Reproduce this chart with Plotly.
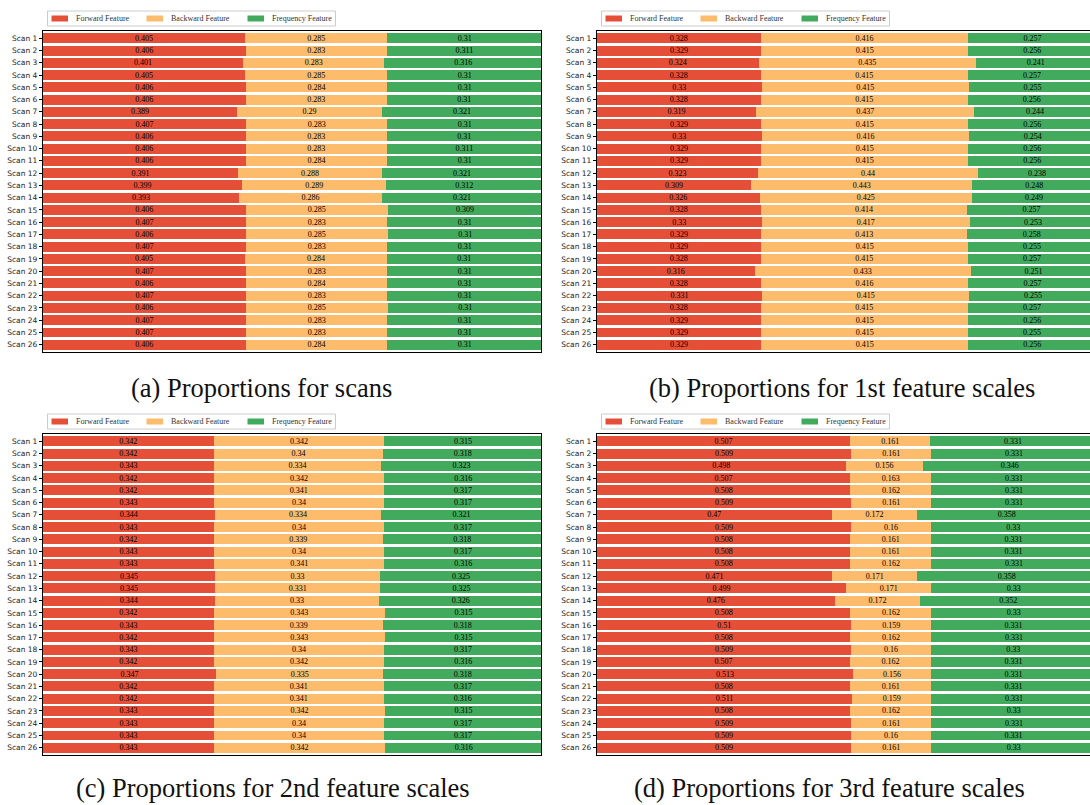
import plotly.graph_objects as go

# ---------------- data ----------------
scans = [f"Scan {i}" for i in range(1, 27)]
series_names = ["Forward Feature", "Backward Feature", "Frequency Feature"]
colors = ["#e64f37", "#fdbb6c", "#41aa5c"]

a_forward = [0.405, 0.406, 0.401, 0.405, 0.406, 0.406, 0.389, 0.407, 0.406, 0.406, 0.406, 0.391, 0.399,
             0.393, 0.406, 0.407, 0.406, 0.407, 0.405, 0.407, 0.406, 0.407, 0.406, 0.407, 0.407, 0.406]
a_backward = [0.285, 0.283, 0.283, 0.285, 0.284, 0.283, 0.29, 0.283, 0.283, 0.283, 0.284, 0.288, 0.289,
              0.286, 0.285, 0.283, 0.285, 0.283, 0.284, 0.283, 0.284, 0.283, 0.285, 0.283, 0.283, 0.284]
a_frequency = [0.31, 0.311, 0.316, 0.31, 0.31, 0.31, 0.321, 0.31, 0.31, 0.311, 0.31, 0.321, 0.312,
               0.321, 0.309, 0.31, 0.31, 0.31, 0.31, 0.31, 0.31, 0.31, 0.31, 0.31, 0.31, 0.31]

b_forward = [0.328, 0.329, 0.324, 0.328, 0.33, 0.328, 0.319, 0.329, 0.33, 0.329, 0.329, 0.323, 0.309,
             0.326, 0.328, 0.33, 0.329, 0.329, 0.328, 0.316, 0.328, 0.331, 0.328, 0.329, 0.329, 0.329]
b_backward = [0.416, 0.415, 0.435, 0.415, 0.415, 0.415, 0.437, 0.415, 0.416, 0.415, 0.415, 0.44, 0.443,
              0.425, 0.414, 0.417, 0.413, 0.415, 0.415, 0.433, 0.416, 0.415, 0.415, 0.415, 0.415, 0.415]
b_frequency = [0.257, 0.256, 0.241, 0.257, 0.255, 0.256, 0.244, 0.256, 0.254, 0.256, 0.256, 0.238, 0.248,
               0.249, 0.257, 0.253, 0.258, 0.255, 0.257, 0.251, 0.257, 0.255, 0.257, 0.256, 0.255, 0.256]

c_forward = [0.342, 0.342, 0.343, 0.342, 0.342, 0.343, 0.344, 0.343, 0.342, 0.343, 0.343, 0.345, 0.345,
             0.344, 0.342, 0.343, 0.342, 0.343, 0.342, 0.347, 0.342, 0.342, 0.343, 0.343, 0.343, 0.343]
c_backward = [0.342, 0.34, 0.334, 0.342, 0.341, 0.34, 0.334, 0.34, 0.339, 0.34, 0.341, 0.33, 0.331,
              0.33, 0.343, 0.339, 0.343, 0.34, 0.342, 0.335, 0.341, 0.341, 0.342, 0.34, 0.34, 0.342]
c_frequency = [0.315, 0.318, 0.323, 0.316, 0.317, 0.317, 0.321, 0.317, 0.318, 0.317, 0.316, 0.325, 0.325,
               0.326, 0.315, 0.318, 0.315, 0.317, 0.316, 0.318, 0.317, 0.316, 0.315, 0.317, 0.317, 0.316]

d_forward = [0.507, 0.509, 0.498, 0.507, 0.508, 0.509, 0.47, 0.509, 0.508, 0.508, 0.508, 0.471, 0.499,
             0.476, 0.508, 0.51, 0.508, 0.509, 0.507, 0.513, 0.508, 0.511, 0.508, 0.509, 0.509, 0.509]
d_backward = [0.161, 0.161, 0.156, 0.163, 0.162, 0.161, 0.172, 0.16, 0.161, 0.161, 0.162, 0.171, 0.171,
              0.172, 0.162, 0.159, 0.162, 0.16, 0.162, 0.156, 0.161, 0.159, 0.162, 0.161, 0.16, 0.161]
d_frequency = [0.331, 0.331, 0.346, 0.331, 0.331, 0.331, 0.358, 0.33, 0.331, 0.331, 0.331, 0.358, 0.33,
               0.352, 0.33, 0.331, 0.331, 0.33, 0.331, 0.331, 0.331, 0.331, 0.33, 0.331, 0.331, 0.33]

captions = ["(a) Proportions for scans",
            "(b) Proportions for 1st feature scales",
            "(c) Proportions for 2nd feature scales",
            "(d) Proportions for 3rd feature scales"]

panel_series = [
    [a_forward, a_backward, a_frequency],
    [b_forward, b_backward, b_frequency],
    [c_forward, c_backward, c_frequency],
    [d_forward, d_backward, d_frequency],
]

# ---------------- layout geometry (pixels) ----------------
W, H = 1090, 805
PX_PER_UNIT = 499.0
# (left, right, top, bottom) of each axes box
boxes = [
    (43, 541, 31, 352),
    (597, 1090, 31, 352),
    (43, 541, 434, 755),
    (597, 1090, 434, 755),
]
# legend box top-left corner
legend_pos = [(47.5, 11), (601.5, 11), (47.5, 414), (601.5, 414)]
LEG_W, LEG_H = 288, 15
HANDLE_X = [4, 99, 200]      # handle left offsets inside legend box
HANDLE_W, HANDLE_H = 16.5, 6
TEXT_GAP = 6
caption_pos = [(261, 388), (842, 388), (273, 788), (829, 788)]

SERIF = "Liberation Serif"


def fx(px):
    return px / W


def fy(py):
    return 1 - py / H


fig = go.Figure()
layout = dict(
    width=W, height=H,
    margin=dict(l=0, r=0, t=0, b=0),
    paper_bgcolor="white", plot_bgcolor="white",
    barmode="stack", bargap=0.2,
    showlegend=False,
    annotations=[], shapes=[],
)

for i, series in enumerate(panel_series):
    k = "" if i == 0 else str(i + 1)
    xref, yref = "x" + k, "y" + k
    for name, vals, col in zip(series_names, series, colors):
        fig.add_trace(go.Bar(
            y=scans, x=vals, orientation="h", name=name,
            marker=dict(color=col, line=dict(width=0)),
            width=0.8,
            text=[str(v) for v in vals],
            textposition="inside", insidetextanchor="middle", textangle=0,
            constraintext="none",
            textfont=dict(family=SERIF, size=8, color="black"),
            showlegend=False, xaxis=xref, yaxis=yref,
        ))

    l, r, t, b = boxes[i]
    right_cut = r >= W
    layout["xaxis" + k] = dict(
        domain=[fx(l), fx(r)], anchor=yref,
        range=[0, (r - l) / PX_PER_UNIT],
        showticklabels=False, ticks="", showgrid=False, zeroline=False,
        showline=True, mirror=True, linecolor="black", linewidth=1.3,
        fixedrange=True,
    )
    layout["yaxis" + k] = dict(
        domain=[fy(b), fy(t)], anchor=xref,
        type="category", categoryorder="array", categoryarray=scans,
        range=[25.6, -0.6],
        showgrid=False, zeroline=False,
        showline=True, mirror=not right_cut, linecolor="black", linewidth=1.3,
        ticks="outside", ticklen=3, tickwidth=1, tickcolor="black",
        tickfont=dict(family="DejaVu Sans", size=7.5, color="#222"),
        fixedrange=True,
    )

    # legend (box, colour handles, labels)
    lx, ly = legend_pos[i]
    layout["shapes"].append(dict(
        type="rect", xref="paper", yref="paper",
        x0=fx(lx), x1=fx(lx + LEG_W), y0=fy(ly + LEG_H), y1=fy(ly),
        line=dict(color="#cccccc", width=1), fillcolor="white", layer="above",
    ))
    cy_leg = ly + LEG_H / 2
    for j, (name, col) in enumerate(zip(series_names, colors)):
        hx = lx + HANDLE_X[j]
        layout["shapes"].append(dict(
            type="rect", xref="paper", yref="paper",
            x0=fx(hx), x1=fx(hx + HANDLE_W),
            y0=fy(cy_leg + HANDLE_H / 2), y1=fy(cy_leg - HANDLE_H / 2),
            line=dict(width=0), fillcolor=col, layer="above",
        ))
        layout["annotations"].append(dict(
            x=fx(hx + HANDLE_W + TEXT_GAP), y=fy(cy_leg), xref="paper", yref="paper",
            xanchor="left", yanchor="middle", showarrow=False,
            text=name, font=dict(family=SERIF, size=8, color="#333"),
        ))

    cx, cy = caption_pos[i]
    layout["annotations"].append(dict(
        x=fx(cx), y=fy(cy), xref="paper", yref="paper",
        xanchor="center", yanchor="middle", showarrow=False,
        text=captions[i],
        font=dict(family=SERIF, size=26.5, color="#111"),
    ))

fig.update_layout(**layout)
fig.write_html("out.html")
